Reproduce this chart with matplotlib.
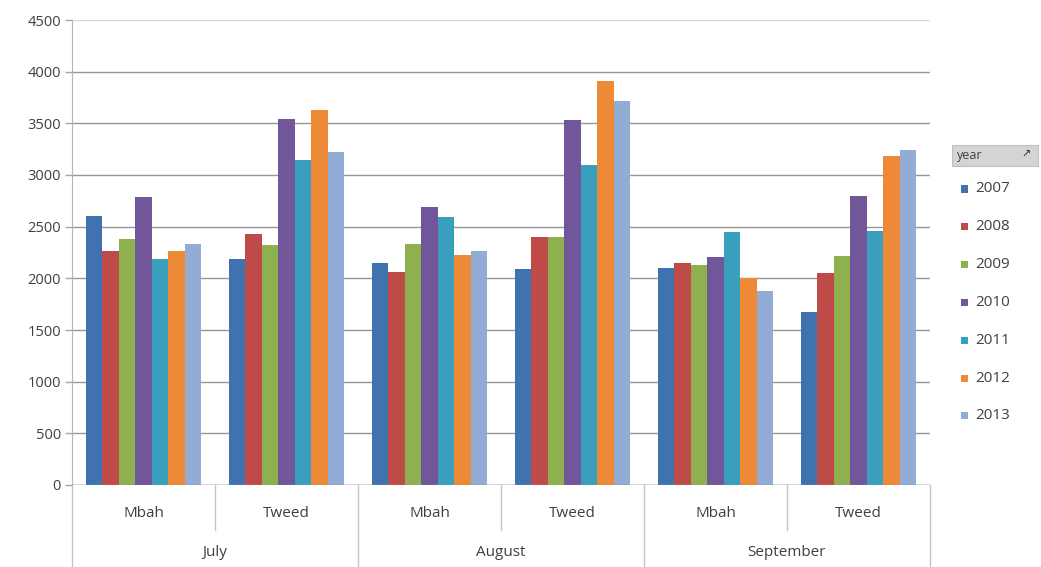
import numpy as np
import matplotlib
matplotlib.use("Agg")
import matplotlib.pyplot as plt
import matplotlib.transforms as mtrans
from matplotlib.patches import Rectangle

plt.rcParams['font.family'] = ['Open Sans', 'DejaVu Sans']

# Datos
meses = ['July', 'August', 'September']
sitios = ['Mbah', 'Tweed']
anios = ['2007', '2008', '2009', '2010', '2011', '2012', '2013']

# valores por anio: July-Mbah, July-Tweed, Aug-Mbah, Aug-Tweed, Sep-Mbah, Sep-Tweed
v2007 = [2600, 2190, 2150, 2090, 2100, 1670]
v2008 = [2265, 2430, 2060, 2400, 2150, 2050]
v2009 = [2380, 2320, 2330, 2400, 2130, 2220]
v2010 = [2790, 3545, 2690, 3535, 2210, 2800]
v2011 = [2185, 3145, 2590, 3100, 2450, 2460]
v2012 = [2265, 3625, 2225, 3905, 2000, 3180]
v2013 = [2335, 3220, 2260, 3720, 1875, 3245]
valores = [v2007, v2008, v2009, v2010, v2011, v2012, v2013]

colores = ['#3F72AF', '#BE4B48', '#8FB04F', '#71569A', '#3A9FBD', '#EE8A37', '#93ACD6']
gris = '#404040'

fig = plt.figure(figsize=(10.41, 5.67), dpi=100)
ax = fig.add_axes([72 / 1041, 82 / 567, 858 / 1041, 465 / 567])

n = len(anios)
x = np.arange(len(meses) * len(sitios))
ancho = 0.81 / n
for i, (anio, vals) in enumerate(zip(anios, valores)):
    ax.bar(x - 0.405 + ancho * (i + 0.5), vals, width=ancho, color=colores[i],
           label=anio, zorder=3, linewidth=0)

ax.set_xlim(-0.5, 5.5)
ax.set_ylim(0, 4500)
ax.set_yticks(np.arange(0, 4501, 500))
ax.yaxis.grid(True, color='#969696', linewidth=1.0, zorder=0)
ax.gridlines = ax.get_ygridlines()
ax.gridlines[-1].set_color('#D9D9D9')
ax.tick_params(axis='y', colors='#A6A6A6', labelcolor=gris, labelsize=10.5,
               length=5, width=1, pad=3)
ax.tick_params(axis='x', bottom=False, labelbottom=False)
for lado in ['top', 'right', 'bottom']:
    ax.spines[lado].set_visible(False)
ax.spines['left'].set_color('#B5B5B5')
ax.axhline(0, color='#8C8C8C', linewidth=1.0, zorder=4)

# eje de categorias de dos niveles
trans = mtrans.blended_transform_factory(ax.transData, ax.transAxes)
for k in range(len(x)):
    ax.text(x[k], -0.062, sitios[k % 2], transform=trans, ha='center', va='center',
            fontsize=11, color=gris)
for m, mes in enumerate(meses):
    ax.text(2 * m + 0.5, -0.145, mes, transform=trans, ha='center', va='center',
            fontsize=11, color=gris)
for xs in [0.5, 2.5, 4.5]:
    ax.plot([xs, xs], [0, -0.097], transform=trans, color='#C4C4C4', lw=1, clip_on=False)
for xs in [-0.5, 1.5, 3.5, 5.5]:
    ax.plot([xs, xs], [0, -0.18], transform=trans, color='#C4C4C4', lw=1, clip_on=False)

# leyenda con cabecera "year"
fig.patches.append(Rectangle((952 / 1041, 1 - 166 / 567), 86 / 1041, 21 / 567,
                             transform=fig.transFigure, facecolor='#D4D4D4',
                             edgecolor='#C0C0C0', lw=0.8))
fig.text(957 / 1041, 1 - 156 / 567, 'year', fontsize=9, color=gris, va='center')
fig.text(1026 / 1041, 1 - 155 / 567, '\u2197', fontsize=8, color='#303030',
         va='center', ha='center')
for i, anio in enumerate(anios):
    yc = 1 - (189 + i * 37.8) / 567
    fig.patches.append(Rectangle((961 / 1041, yc - 3.5 / 567), 7 / 1041, 7 / 567,
                                 transform=fig.transFigure, facecolor=colores[i], lw=0))
    fig.text(975 / 1041, yc, anio, fontsize=11, color=gris, va='center')

fig.savefig('out.png', dpi=100)
